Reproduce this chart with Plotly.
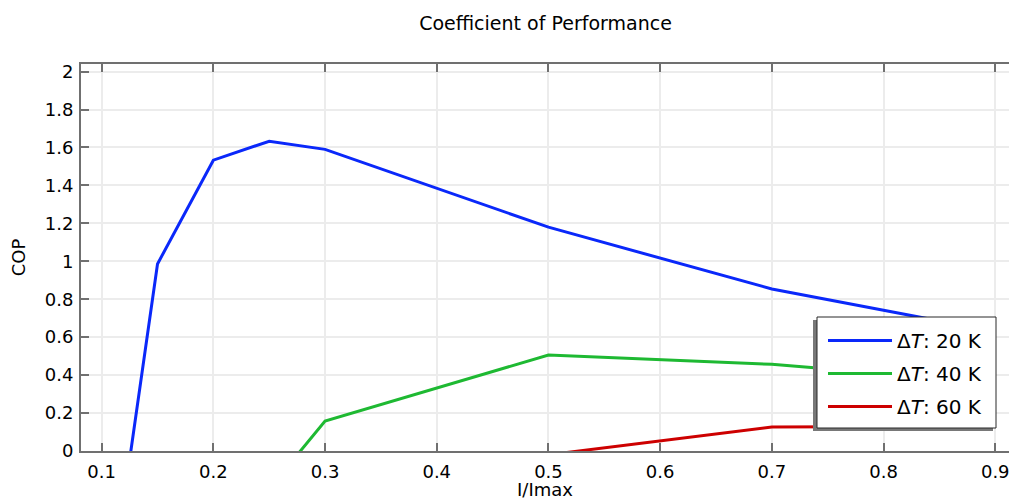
import plotly.graph_objects as go

# Data
i_ratio_20 = [0.1, 0.15, 0.2, 0.25, 0.3, 0.5, 0.7, 0.9]
cop_20 = [-1.08, 0.986, 1.533, 1.633, 1.59, 1.18, 0.854, 0.63]
i_ratio_40 = [0.25, 0.3, 0.5, 0.7, 0.9]
cop_40 = [-0.2, 0.158, 0.506, 0.457, 0.36]
i_ratio_60 = [0.5, 0.7, 0.9]
cop_60 = [-0.02, 0.127, 0.13]

series_names = ["Δ<i>T</i>: 20 K", "Δ<i>T</i>: 40 K", "Δ<i>T</i>: 60 K"]
series_colors = ["rgb(10,40,250)", "rgb(30,185,50)", "rgb(205,0,0)"]

x_ticks = [0.1, 0.2, 0.3, 0.4, 0.5, 0.6, 0.7, 0.8, 0.9]
y_ticks = [0, 0.2, 0.4, 0.6, 0.8, 1, 1.2, 1.4, 1.6, 1.8, 2]

FONT = "DejaVu Sans"

fig = go.Figure()
for k, (xs, ys) in enumerate([(i_ratio_20, cop_20), (i_ratio_40, cop_40), (i_ratio_60, cop_60)]):
    fig.add_trace(go.Scatter(
        x=xs, y=ys, mode="lines", name=series_names[k],
        legendgroup=f"g{k}",
        line=dict(color=series_colors[k], width=3),
    ))

# plot area geometry (px)
L, R, T, B = 81, 0, 64, 49
W, H = 1009, 500
pw, ph = W - L - R, H - T - B

def px_to_paper_x(px):
    return (px - L) / pw

def px_to_paper_y(py):
    return (H - B - py) / ph

# legend shadow and box
fig.add_shape(type="rect", xref="paper", yref="paper",
              x0=px_to_paper_x(813), x1=px_to_paper_x(993),
              y0=px_to_paper_y(431), y1=px_to_paper_y(320),
              fillcolor="rgb(120,120,120)", line=dict(width=0), layer="above")
fig.add_shape(type="rect", xref="paper", yref="paper",
              x0=px_to_paper_x(817), x1=px_to_paper_x(996),
              y0=px_to_paper_y(428), y1=px_to_paper_y(317),
              fillcolor="white", line=dict(width=1, color="rgb(40,40,40)"), layer="above")

axis_common = dict(
    showline=True, linecolor="rgb(112,112,112)", linewidth=2,
    ticks="inside", ticklen=8, tickwidth=2, tickcolor="rgb(112,112,112)",
    showgrid=True, gridcolor="rgb(236,236,236)", gridwidth=1.5,
    zeroline=False, automargin=False, ticklabeloverflow="allow",
    tickfont=dict(family=FONT, size=18, color="black"),
)

fig.update_xaxes(
    range=[0.0815, 0.0815 + pw / 1117.0],
    tickvals=x_ticks, ticktext=[f"{v:g}" for v in x_ticks],
    mirror="ticks", ticklabelstandoff=3,
    title=dict(text="I/Imax", font=dict(family=FONT, size=18, color="black"), standoff=10),
    **axis_common,
)
fig.update_yaxes(
    range=[0, 2.04],
    tickvals=y_ticks, ticktext=[f"{v:g}" for v in y_ticks],
    mirror=False, ticklabelstandoff=2,
    title=dict(text="COP", font=dict(family=FONT, size=18, color="black"), standoff=14),
    **axis_common,
)

fig.update_layout(
    width=W, height=H,
    margin=dict(l=L, r=R, t=T, b=B, pad=0),
    paper_bgcolor="white", plot_bgcolor="white",
    title=dict(text="Coefficient of Performance", x=px_to_paper_x(545.5), xref="paper",
               y=1 - 23 / H, yref="container", yanchor="middle", xanchor="center",
               font=dict(family=FONT, size=19, color="black")),
    showlegend=True,
    legend=dict(
        x=px_to_paper_x(823), y=px_to_paper_y(321), xanchor="left", yanchor="top",
        bgcolor="rgba(0,0,0,0)", borderwidth=0,
        font=dict(family=FONT, size=20, color="black"),
        tracegroupgap=4, itemwidth=64,
    ),
    font=dict(family=FONT),
)

fig.write_html("out.html", config={"displayModeBar": False},
               post_script="document.body.style.margin='0';document.body.style.overflow='hidden';")
